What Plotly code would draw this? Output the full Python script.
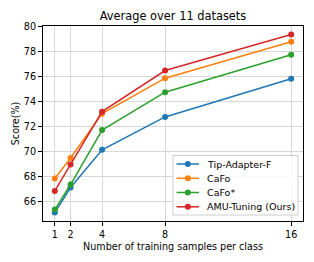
import plotly.graph_objects as go

shots = [1, 2, 4, 8, 16]
tip_adapter_f = [65.15, 67.15, 70.16, 72.78, 75.82]
cafo = [67.87, 69.50, 73.04, 75.87, 78.78]
cafo_star = [65.39, 67.39, 71.73, 74.75, 77.73]
amu_tuning = [66.88, 68.99, 73.20, 76.48, 79.35]
y_ticks = [66, 68, 70, 72, 74, 76, 78, 80]

series = [
    ("Tip-Adapter-F", tip_adapter_f, "#1f77b4"),
    ("CaFo", cafo, "#ff7f0e"),
    ("CaFo*", cafo_star, "#2ca02c"),
    ("AMU-Tuning (Ours)", amu_tuning, "#d62728"),
]

font = "DejaVu Sans"
fig = go.Figure()
for name, vals, col in series:
    fig.add_trace(go.Scatter(
        x=shots, y=vals, name=name, mode="lines+markers",
        line=dict(color=col, width=1.5),
        marker=dict(color=col, size=6, symbol="circle"),
        showlegend=False,
    ))

# legend drawn as a matplotlib-style box
W, H = 260.0, 195.0  # plot area px
def px(x):
    return (x - 43) / W
def py(y):
    return (221 - y) / H

shapes = [dict(type="rect", xref="paper", yref="paper",
               x0=px(173), x1=px(298), y0=py(215), y1=py(155.5),
               line=dict(color="#cccccc", width=1), fillcolor="rgba(255,255,255,0.85)",
               layer="above")]
annotations = []
rows = [164, 178.3, 192.5, 206.8]
for (name, vals, col), ry in zip(series, rows):
    shapes.append(dict(type="line", xref="paper", yref="paper",
                       x0=px(176.5), x1=px(199), y0=py(ry), y1=py(ry),
                       line=dict(color=col, width=1.5), layer="above"))
    shapes.append(dict(type="circle", xref="paper", yref="paper",
                       xsizemode="pixel", ysizemode="pixel",
                       xanchor=px(187.8), yanchor=py(ry), x0=-3, x1=3, y0=-3, y1=3,
                       fillcolor=col, line=dict(color=col, width=0), layer="above"))
    annotations.append(dict(xref="paper", yref="paper", x=px(205), y=py(ry),
                            xanchor="left", yanchor="middle", showarrow=False,
                            text=name, font=dict(size=9.5, family=font, color="black")))

fig.update_layout(
    width=314, height=262,
    margin=dict(l=43, r=11, t=26, b=41, autoexpand=False),
    paper_bgcolor="white", plot_bgcolor="white",
    font=dict(family=font, size=9.6, color="black"),
    title=dict(text="Average over 11 datasets", xref="paper", x=0.5, xanchor="center",
               yref="container", y=1 - 16 / 262, yanchor="middle", font=dict(size=11.4)),
    showlegend=False,
    shapes=shapes,
    annotations=annotations,
)
fig.update_xaxes(
    range=[0.25, 16.75], tickvals=shots, ticktext=[str(s) for s in shots],
    showgrid=True, gridcolor="#d6d6d6", gridwidth=1, automargin=False,
    showline=True, linecolor="black", linewidth=1, mirror=True,
    ticks="outside", ticklen=4, tickcolor="black", zeroline=False,
    title=dict(text="Number of training samples per class", font=dict(size=9.6), standoff=4),
)
fig.update_yaxes(
    range=[64.48, 80.03], tickvals=y_ticks,
    showgrid=True, gridcolor="#d6d6d6", gridwidth=1, automargin=False,
    showline=True, linecolor="black", linewidth=1, mirror=True,
    ticks="outside", ticklen=4, tickcolor="black", zeroline=False,
    title=dict(text="Score(%)", font=dict(size=9.6), standoff=2),
)
fig.write_html("out.html", config={"displayModeBar": False},
               post_script="document.body.style.margin='0';document.body.style.overflow='hidden';")
